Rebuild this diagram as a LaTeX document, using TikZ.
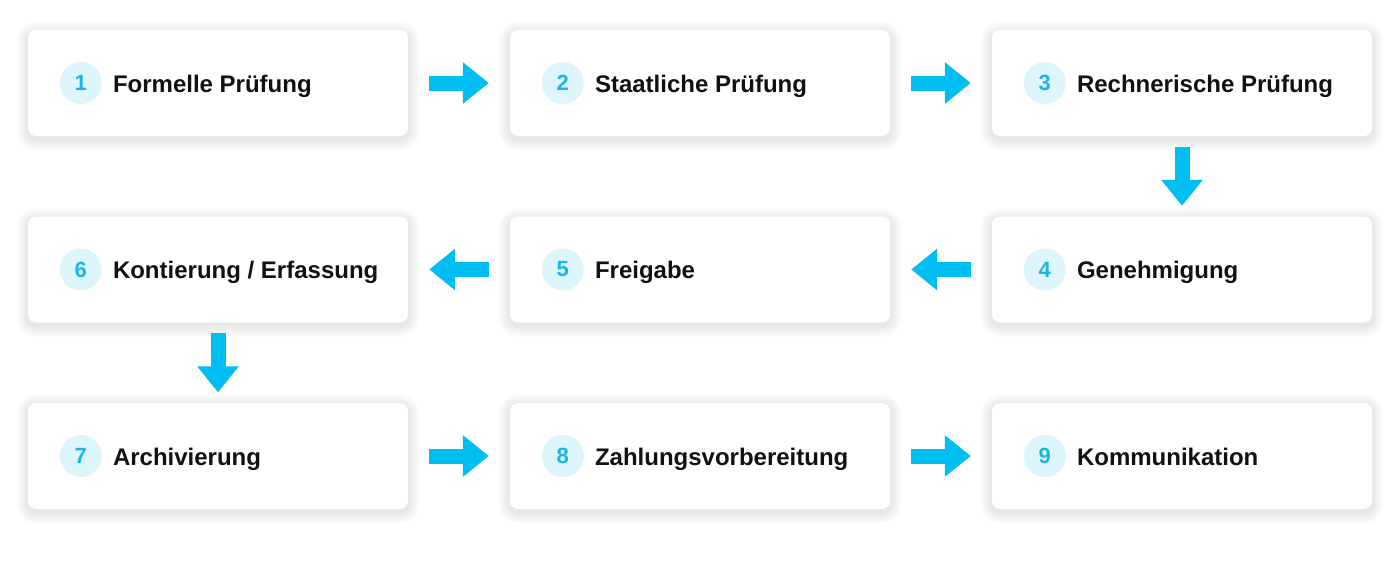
\documentclass[tikz,border=0pt]{standalone}
\usepackage{fontspec}
\setmainfont{Liberation Sans}
\usetikzlibrary{arrows.meta,positioning}
\definecolor{arrowc}{HTML}{00BEF2}
\definecolor{numc}{HTML}{1CB5E6}
\definecolor{circc}{HTML}{DDF6FD}
\definecolor{txtc}{HTML}{111111}
\tikzset{
  card/.style={rectangle, rounded corners=8pt, fill=white, minimum width=380pt, minimum height=106pt, inner sep=0pt},
  numdot/.style={circle, fill=circc, minimum size=42pt, inner sep=0pt, text=numc, font=\fontsize{22}{24}\selectfont\bfseries},
  label/.style={anchor=base west, inner sep=0pt, text=txtc, font=\fontsize{24}{28}\selectfont\bfseries},
  bigarrow/.style={draw=arrowc, line width=15pt, -{Triangle[width=40pt,length=26pt]}},
  shadowlayer/.style={fill=black, opacity=0.007},
}
\begin{document}
\begin{tikzpicture}[x=1pt,y=-1pt]
\useasboundingbox (0,0) rectangle (1400,570);
\fill[white] (0,0) rectangle (1400,570);
% soft shadows
\foreach \n/\x/\y in {1/218/83,2/700/83,3/1182/83,6/218/269.5,5/700/269.5,4/1182/269.5,7/218/456,8/700/456,9/1182/456}{
  \coordinate (s\n) at (\x,\y);
  \foreach \k in {1,...,12}{
    \pgfmathsetmacro{\hw}{190+\k}
    \pgfmathsetmacro{\ht}{53+\k-3}
    \pgfmathsetmacro{\hb}{53+\k+3}
    \pgfmathsetmacro{\rr}{8+\k}
    \fill[shadowlayer, rounded corners=\rr pt] ([xshift=-\hw pt,yshift=\ht pt]s\n) rectangle ([xshift=\hw pt,yshift=-\hb pt]s\n);
  }
}
% cards
\node[card] (b1) at (s1) {};
\node[card] (b2) at (s2) {};
\node[card] (b3) at (s3) {};
\node[card] (b6) at (s6) {};
\node[card] (b5) at (s5) {};
\node[card] (b4) at (s4) {};
\node[card] (b7) at (s7) {};
\node[card] (b8) at (s8) {};
\node[card] (b9) at (s9) {};
% numbers and labels
\foreach \i/\t in {1/{Formelle Prüfung},2/{Staatliche Prüfung},3/{Rechnerische Prüfung},4/{Genehmigung},5/{Freigabe},6/{Kontierung / Erfassung},7/{Archivierung},8/{Zahlungsvorbereitung},9/{Kommunikation}}{
  \node[numdot] (n\i) at ([xshift=53pt]b\i.west) {\i};
  \node[label] (t\i) at ([xshift=85pt,yshift=-9pt]b\i.west) {\t};
}
% arrows
\draw[bigarrow, shorten <=21pt, shorten >=21pt] (b1.east) -- (b2.west);
\draw[bigarrow, shorten <=21pt, shorten >=21pt] (b2.east) -- (b3.west);
\draw[bigarrow, shorten <=10.5pt, shorten >=10.5pt] (b3.south) -- (b4.north);
\draw[bigarrow, shorten <=21pt, shorten >=21pt] (b4.west) -- (b5.east);
\draw[bigarrow, shorten <=21pt, shorten >=21pt] (b5.west) -- (b6.east);
\draw[bigarrow, shorten <=10.5pt, shorten >=10.5pt] (b6.south) -- (b7.north);
\draw[bigarrow, shorten <=21pt, shorten >=21pt] (b7.east) -- (b8.west);
\draw[bigarrow, shorten <=21pt, shorten >=21pt] (b8.east) -- (b9.west);
\end{tikzpicture}
\end{document}
